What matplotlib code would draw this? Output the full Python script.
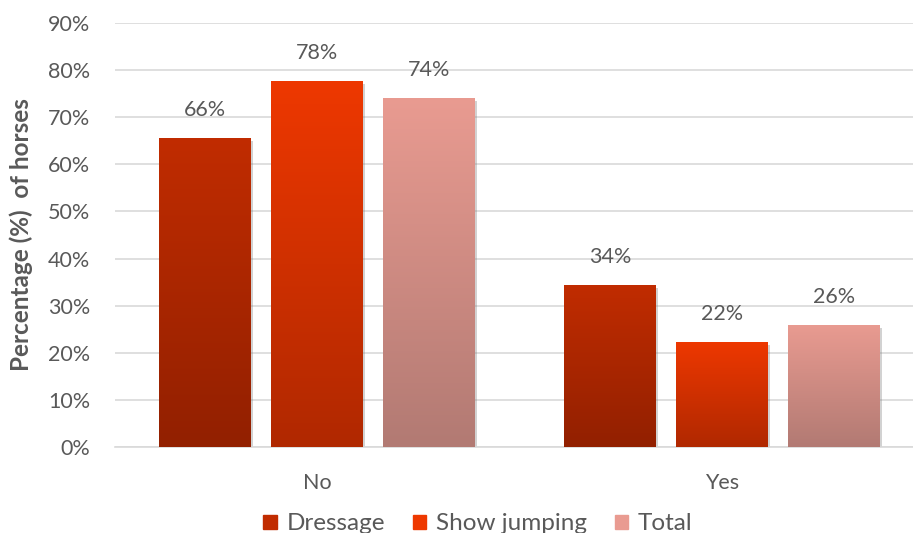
import matplotlib
matplotlib.use('Agg')
import matplotlib.pyplot as plt
import matplotlib.patches as mpatches
import matplotlib.patheffects as pe
from matplotlib.colors import LinearSegmentedColormap
import numpy as np

plt.rcParams['font.family'] = ['Lato', 'DejaVu Sans']

categories = ['No', 'Yes']
series = ['Dressage', 'Show jumping', 'Total']
values = {
    'Dressage':     [65.6, 34.4],
    'Show jumping': [77.7, 22.3],
    'Total':        [74.1, 25.9],
}
# (top, bottom) colours of each bar's vertical gradient
gradients = {
    'Dressage':     ('#C12C00', '#922000'),
    'Show jumping': ('#EE3800', '#B02800'),
    'Total':        ('#E99B91', '#B27A73'),
}
yticks = list(range(0, 91, 10))

TEXT = '#595959'
GRID = '#D9D9D9'

fig = plt.figure(figsize=(9.13, 5.33), dpi=100)
fig.patch.set_facecolor('white')
ax = fig.add_axes([115 / 913, 86 / 533, 798 / 913, 424 / 533])

x = np.arange(len(categories))
width = 0.225
step = 0.2765

for i, name in enumerate(series):
    top, bottom = gradients[name]
    bars = ax.bar(x + (i - 1) * step, values[name], width,
                  color=top, edgecolor='none', zorder=2,
                  path_effects=[pe.SimplePatchShadow(offset=(1.5, -2), shadow_rgbFace='#7f7f7f', alpha=0.35),
                                pe.Normal()])
    cmap = LinearSegmentedColormap.from_list(name, [bottom, top])
    grad = np.linspace(0, 1, 256).reshape(-1, 1)
    for b in bars:
        x0, y0 = b.get_x(), b.get_y()
        im = ax.imshow(grad, cmap=cmap, origin='lower', aspect='auto',
                       extent=[x0, x0 + b.get_width(), y0, y0 + b.get_height()],
                       interpolation='bicubic', zorder=3)
        im.set_clip_path(b)
        ax.annotate(f'{b.get_height():.0f}%', (x0 + b.get_width() / 2, b.get_height()),
                    xytext=(0, 20), textcoords='offset points',
                    ha='center', va='center', fontsize=15.5, color=TEXT, zorder=4)

ax.set_xlim(-0.4988, 1.4716)
ax.set_ylim(0, 90)
ax.set_yticks(yticks)
ax.set_yticklabels([f'{t}%' for t in yticks])
ax.set_xticks(x)
ax.set_xticklabels(categories)
ax.tick_params(axis='both', length=0, labelsize=15.5, labelcolor=TEXT)
ax.tick_params(axis='y', pad=18)
ax.tick_params(axis='x', pad=19)
ax.grid(axis='y', color=GRID, linewidth=1.2, zorder=0)
ax.set_axisbelow(True)
for s in ['top', 'right', 'left']:
    ax.spines[s].set_visible(False)
ax.spines['bottom'].set_color(GRID)
ax.spines['bottom'].set_linewidth(1.2)

ax.set_ylabel('Percentage (%)  of horses', fontsize=17.5, fontweight='bold', color=TEXT)
ax.yaxis.set_label_coords(-0.103, 0.5)

handles = [mpatches.Patch(color=gradients[n][0], label=n) for n in series]
fig.legend(handles=handles, loc='center', bbox_to_anchor=(478 / 913, 9 / 533),
           ncol=3, frameon=False, fontsize=17.5, handlelength=0.55, handleheight=0.55,
           handletextpad=0.4, columnspacing=1.15, labelcolor=TEXT)

fig.savefig('out.png', dpi=100, facecolor='white')
